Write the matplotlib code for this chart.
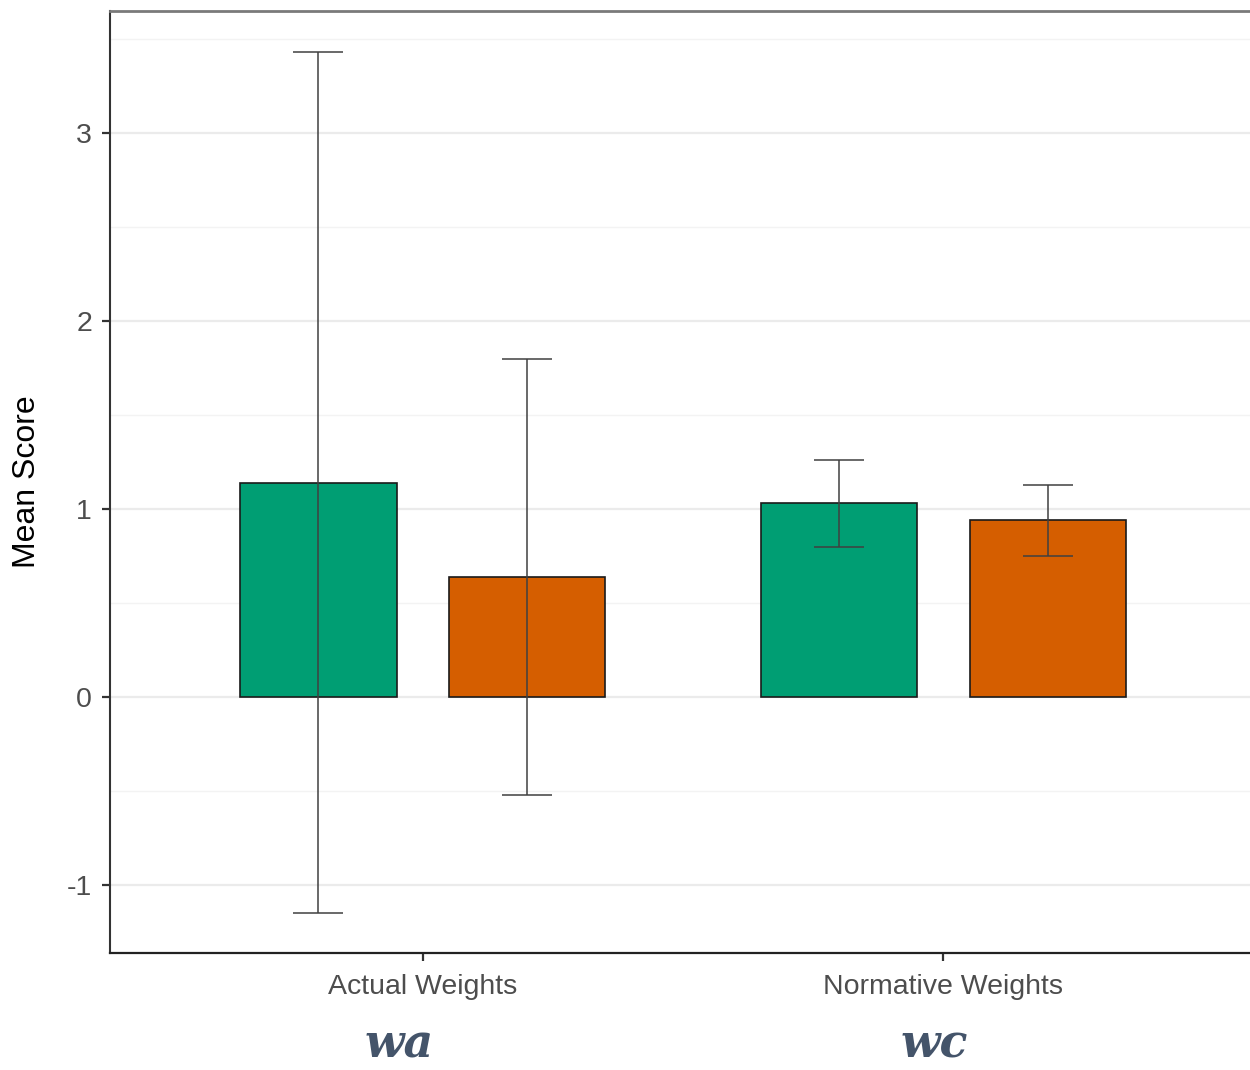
import numpy as np
import matplotlib.pyplot as plt
from matplotlib.ticker import MultipleLocator

plt.rcParams['axes.unicode_minus'] = False

groups = ['Actual Weights', 'Normative Weights']
sub_labels = ['wa', 'wc']
green_means = [1.14, 1.03]
green_err = [2.29, 0.23]
orange_means = [0.64, 0.94]
orange_err = [1.16, 0.19]

colors = ['#009E73', '#D55E00']

fig = plt.figure(figsize=(12.5, 10.7), dpi=100)
ax = fig.add_axes([0.088, 0.1093, 0.9168, 0.8804])

x = np.arange(1, len(groups) + 1)
width = 0.3
off = 0.2

for means, errs, col, sign in [(green_means, green_err, colors[0], -1),
                               (orange_means, orange_err, colors[1], 1)]:
    ax.bar(x + sign * off, means, width, color=col, edgecolor='#1a1a1a',
           linewidth=1.2, zorder=2)
    ax.errorbar(x + sign * off, means, yerr=errs, fmt='none', ecolor='#404040',
                elinewidth=1.1, capsize=18, capthick=1.1, zorder=3)

ax.set_xlim(0.4, 2.6)
ax.set_ylim(-1.362, 3.649)
ax.yaxis.set_major_locator(MultipleLocator(1))
ax.yaxis.set_minor_locator(MultipleLocator(0.5))
ax.grid(True, which='major', axis='y', color='#EBEBEB', linewidth=1.6, zorder=0)
ax.grid(True, which='minor', axis='y', color='#F3F3F3', linewidth=1.0, zorder=0)
ax.set_axisbelow(True)

ax.set_xticks(x)
ax.set_xticklabels(groups)
ax.tick_params(axis='both', which='major', length=6, width=1.6, color='#333333',
               labelsize=20.5, labelcolor='#4D4D4D', pad=7)
ax.tick_params(axis='x', which='major', pad=9)
ax.tick_params(axis='y', which='minor', length=0)
for lab in ax.get_xticklabels() + ax.get_yticklabels():
    lab.set_family('Liberation Sans')

ax.set_ylabel('Mean Score', fontsize=23, family='Liberation Sans', labelpad=18)

ax.spines['left'].set_color('#333333')
ax.spines['left'].set_linewidth(1.5)
ax.spines['bottom'].set_color('#222222')
ax.spines['bottom'].set_linewidth(1.6)
ax.spines['top'].set_color('#7a7a7a')
ax.spines['top'].set_linewidth(2)
ax.spines['right'].set_visible(False)

# the wa / wc subscripts under each group (they sit a bit left of the ticks)
to_fig = ax.transData + fig.transFigure.inverted()
shift = [-0.019, -0.007]
for xi, lab, dx in zip(x, sub_labels, shift):
    fx = to_fig.transform((xi, 0))[0] + dx
    fig.text(fx, 0.012, lab, ha='center', va='baseline', fontsize=33,
             family='DejaVu Serif', style='italic', weight='bold',
             color='#44546A')

fig.savefig('out.png', dpi=100)
